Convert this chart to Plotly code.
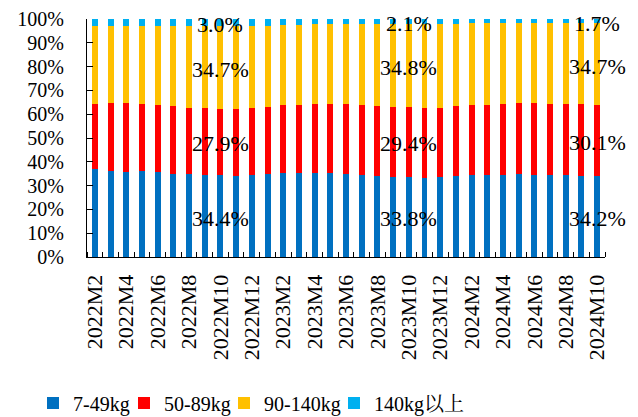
import plotly.graph_objects as go

months = ([f"2022M{m}" for m in range(2, 13)] +
          [f"2023M{m}" for m in range(1, 13)] +
          [f"2024M{m}" for m in range(1, 11)])

s_7_49 = [37.0, 36.3, 35.7, 36.0, 35.8, 35.0, 34.9, 34.4, 34.4, 34.2, 34.3,
          34.9, 35.3, 35.2, 35.2, 35.2, 34.9, 34.6, 34.0, 33.6, 33.8, 33.3, 33.6,
          34.2, 34.3, 34.6, 34.6, 34.9, 34.6, 34.3, 34.4, 34.0, 34.2]
s_50_89 = [27.3, 28.3, 29.0, 28.2, 28.1, 28.3, 27.9, 28.2, 27.9, 27.8, 28.3,
           28.1, 28.4, 28.8, 29.0, 29.0, 29.2, 29.1, 29.3, 29.6, 29.4, 29.1, 29.1,
           29.3, 29.4, 29.1, 29.6, 29.9, 29.9, 30.0, 29.9, 30.1, 30.1]
s_90_140 = [32.8, 32.5, 32.3, 32.8, 33.1, 33.7, 34.2, 34.4, 34.7, 35.0, 34.4,
            34.2, 33.8, 33.6, 33.6, 33.6, 33.8, 34.1, 34.5, 34.7, 34.8, 35.5, 35.2,
            34.5, 34.5, 34.5, 34.0, 33.4, 33.7, 34.0, 34.0, 34.2, 34.7]
s_140_up = [2.9, 2.9, 3.0, 3.0, 3.0, 3.0, 3.0, 3.0, 3.0, 3.0, 3.0,
            2.8, 2.5, 2.4, 2.2, 2.2, 2.1, 2.2, 2.2, 2.1, 2.1, 2.1, 2.1,
            2.0, 1.8, 1.8, 1.8, 1.8, 1.8, 1.7, 1.7, 1.7, 1.7]

series_names = ["7-49kg", "50-89kg", "90-140kg", "140kg以上"]
colors = ["#0070C0", "#FF0000", "#FFC000", "#00B0F0"]
label_months = ["2022M10", "2023M10", "2024M10"]
tick_labels = months[::2]

FONT = "Liberation Serif, Times New Roman, Noto Serif CJK SC, Noto Sans CJK SC, serif"

# the page body adds an 8px margin, so the figure is 8px smaller
W, H = 630, 409
L, R, T, B = 79, 33, 11, 160

x = list(range(len(months)))
all_series = [s_7_49, s_50_89, s_90_140, s_140_up]
legend_ids = ["legend", "legend2", "legend3", "legend4"]
legend_px = [25, 116, 216, 326]

fig = go.Figure()
for name, vals, col, lg in zip(series_names, all_series, colors, legend_ids):
    fig.add_trace(go.Bar(x=x, y=vals, name=name, marker_color=col,
                         marker_line_width=0, width=0.38, legend=lg))

# value labels on selected months
for m in label_months:
    i = months.index(m)
    cum = 0.0
    tot = sum(s[i] for s in all_series)
    for s in all_series:
        v = s[i]
        mid = (cum + v / 2) / tot * 100
        cum += v
        fig.add_annotation(x=i, y=mid, text=f"{v:.1f}%", showarrow=False,
                           font=dict(family=FONT, size=22, color="#000"),
                           yshift=-2)

legend_layout = {}
for lg, px in zip(legend_ids, legend_px):
    legend_layout[lg] = dict(orientation="h", xref="container", x=px / W,
                             xanchor="left", yref="container",
                             y=1 - 395 / H, yanchor="middle",
                             font=dict(family=FONT, size=20),
                             itemwidth=30, bgcolor="rgba(0,0,0,0)")

fig.update_layout(
    barmode="stack",
    barnorm="percent",
    width=W, height=H,
    margin=dict(l=L, r=R, t=T, b=B, autoexpand=False),
    paper_bgcolor="white", plot_bgcolor="white",
    font=dict(family=FONT, size=21, color="#000"),
    showlegend=True,
    **legend_layout,
)
fig.update_xaxes(
    range=[-0.5, len(months) - 0.5], automargin=False,
    tickvals=x[::2], ticktext=tick_labels, tickangle=-90,
    tickfont=dict(size=22), ticklabeloverflow="allow",
    ticks="", showline=True, linecolor="#000", linewidth=1,
    showgrid=False, zeroline=False, ticklabelstandoff=8,
    minor=dict(ticks="inside", tick0=-0.5, dtick=1, ticklen=5,
               tickcolor="#000", showgrid=False),
)
fig.update_yaxes(
    range=[0, 100], automargin=False, tickvals=list(range(0, 101, 10)),
    ticktext=[f"{v}%" for v in range(0, 101, 10)],
    tickfont=dict(size=20), ticklabeloverflow="allow",
    ticks="inside", ticklen=6, tickcolor="#000",
    showline=True, linecolor="#000", linewidth=1,
    showgrid=False, zeroline=False, ticklabelstandoff=18,
)

fig.write_html("out.html")
